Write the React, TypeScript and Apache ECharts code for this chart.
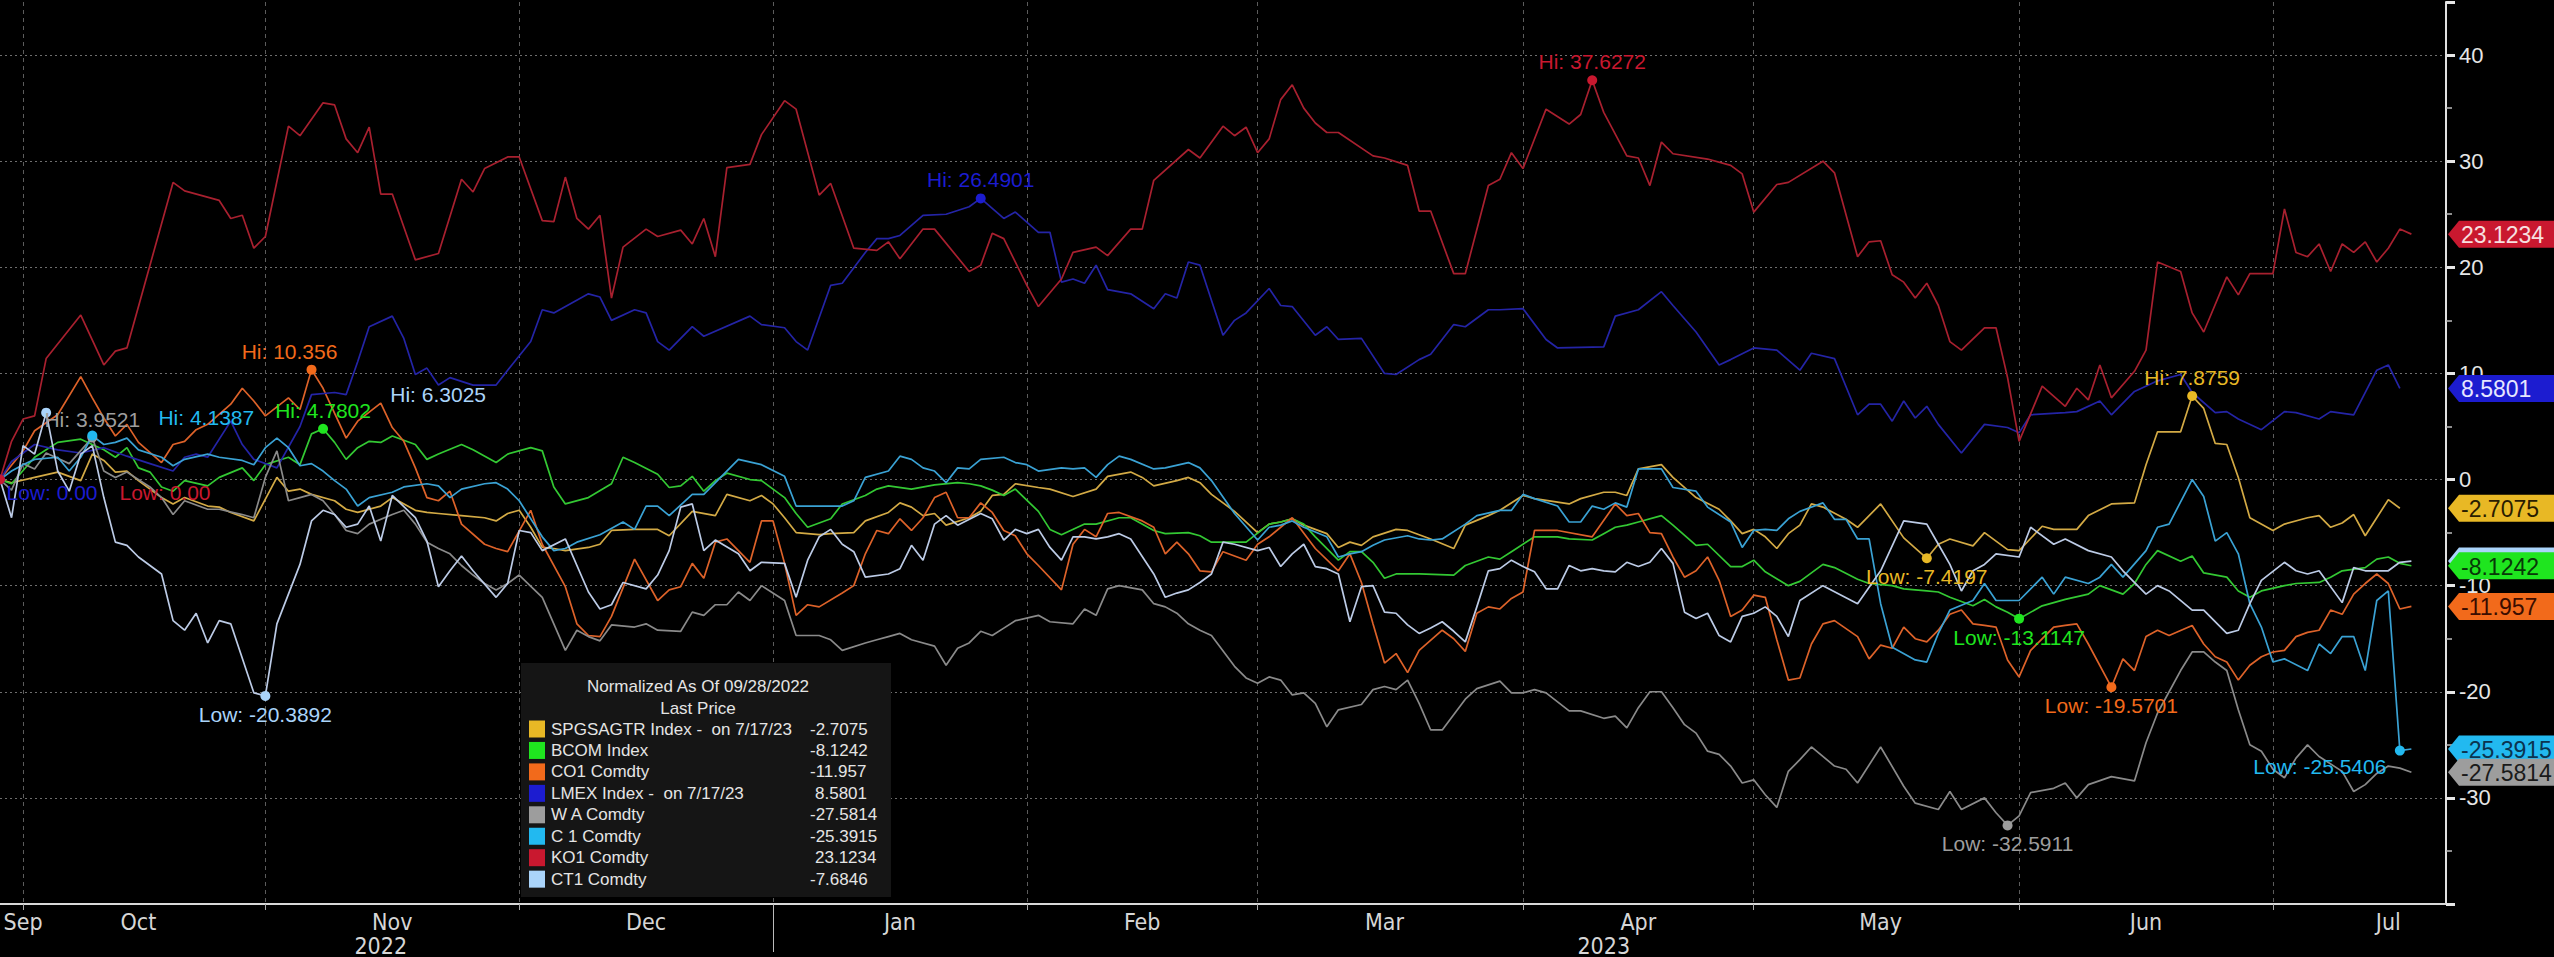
import React, { useEffect, useRef } from "react";
import * as echarts from "echarts";

type Pt = [number, number];

// ---------- categories: trading (week) days from the normalisation date ----------
const START_DATE = "2022-09-28";
const CATEGORY_COUNT = 213; // through 2023-07-21 (axis runs a few days past the data)

function weekdayDates(start: string, count: number): string[] {
  const out: string[] = [];
  const d = new Date(start + "T00:00:00Z");
  while (out.length < count) {
    const wd = d.getUTCDay();
    if (wd !== 0 && wd !== 6) out.push(d.toISOString().slice(0, 10));
    d.setUTCDate(d.getUTCDate() + 1);
  }
  return out;
}
function weekdayIndexOf(date: string): number {
  // signed count of weekdays between START_DATE and date
  const a = new Date(START_DATE + "T00:00:00Z");
  const b = new Date(date + "T00:00:00Z");
  const step = b >= a ? 1 : -1;
  let n = 0;
  const d = new Date(a);
  while (d.toISOString().slice(0, 10) !== date) {
    d.setUTCDate(d.getUTCDate() + step);
    const wd = d.getUTCDay();
    if (wd !== 0 && wd !== 6) n += step;
  }
  return n;
}
const categories = weekdayDates(START_DATE, CATEGORY_COUNT);

const monthNames = ["Jan", "Feb", "Mar", "Apr", "May", "Jun", "Jul", "Aug", "Sep", "Oct", "Nov", "Dec"];

// ---------- series (x = trading-day index from 2022-09-28, y = % change) ----------
const SPGSAGTR: Pt[] = [[0,0],[1,-0.3],[3,0.2],[5,0.7],[7,-0.1],[8,2.4],[9,1.8],[10,0.7],[11,0.8],[12,-0.1],[14,-1.7],[15,-2.3],[16,-1.7],[18,-2.5],[19,-2.6],[20,-3.1],[22,-3.9],[24,0.2],[25,-1.1],[26,-0.9],[27,-1.4],[29,-2],[30,-2.8],[31,-3.1],[33,-2.5],[34,-1.7],[36,-2.9],[37,-3.1],[38,-3.2],[40,-3.4],[42,-3.6],[43,-3.9],[44,-3.2],[45,-2.9],[46,-4.5],[47,-6.4],[48,-6.5],[49,-6.7],[51,-6.4],[52,-6.1],[53,-4.8],[55,-4.7],[57,-4.7],[58,-5.3],[60,-3],[62,-3.4],[63,-1.4],[65,-2],[66,-1.5],[67,-2.3],[68,-3.6],[69,-5],[71,-5.2],[72,-5.1],[74,-5],[75,-3.9],[77,-3.1],[78,-2.2],[79,-2.6],[80,-3.4],[81,-3.2],[82,-4.3],[84,-3.6],[85,-3],[86,-1.5],[87,-1.4],[88,-0.4],[90,-0.75],[91,-0.9],[93,-1.6],[95,-0.9],[96,0.3],[98,0.7],[99,0.2],[100,-0.6],[102,-0.1],[103,0.2],[104,-0.3],[105,-1.4],[107,-3],[109,-5],[110,-4.2],[111,-4],[112,-3.7],[113,-4.3],[115,-5.1],[116,-6.4],[117,-5.9],[118,-6.2],[119,-5.4],[121,-4.7],[122,-4.8],[124,-5.6],[126,-6.5],[127,-4.3],[129,-3.4],[130,-2.9],[132,-1.5],[133,-1.8],[136,-2.3],[137,-1.8],[139,-1.2],[140,-1.2],[141,-1.5],[142,1],[144,1.4],[145,0.2],[147,-1.7],[149,-2.8],[150,-3.9],[151,-5.1],[152,-4.7],[153,-5.4],[154,-6.5],[155,-5.1],[156,-4.3],[157,-2.3],[158,-2.6],[160,-3.75],[161,-4.5],[163,-2.3],[165,-5.5],[167,-7.4197],[168,-6.1],[169,-5.6],[171,-6.25],[172,-5],[174,-6.6],[175,-6.7],[177,-4.4],[178,-4.7],[180,-4.7],[181,-3.4],[183,-2.3],[185,-2.2],[186,1.4],[187,4.5],[189,4.5],[190,7.8759],[191,6.7],[192,3.4],[193,3.3],[194,0.2],[195,-3.6],[197,-4.8],[198,-4.2],[200,-3.6],[201,-3.4],[202,-4.5],[203,-4.1],[204,-3.3],[205,-5.3],[206,-3.6],[207,-1.9],[208,-2.7075]];

const BCOM: Pt[] = [[0,0],[1,-0.4],[3,2.1],[4,2.8],[5,3.5],[7,3.8],[8,3.3],[9,2.8],[10,2.1],[11,3],[12,1.1],[13,0.7],[14,-0.7],[15,-1.1],[16,-0.1],[18,-0.6],[19,0.2],[21,1.1],[22,-0.1],[23,1.4],[25,2.1],[26,1.4],[27,4.3],[28,4.7802],[29,3.5],[30,1.9],[31,3],[32,3.6],[33,3.5],[34,4.1],[36,3.3],[37,1.9],[38,2.4],[40,3.3],[41,2.8],[43,1.6],[44,2.4],[46,3],[47,2.7],[48,-0.7],[49,-2.3],[51,-1.7],[53,-0.4],[54,2.1],[55,1.6],[57,0.5],[58,-0.75],[59,-0.6],[60,0.3],[61,-1.1],[62,-0.1],[63,0.6],[65,0],[66,-0.1],[68,-1.7],[69,-3.2],[70,-4.5],[72,-3.7],[73,-2.3],[75,-1.5],[76,-0.9],[77,-0.6],[79,-0.9],[81,-0.5],[83,-0.3],[84,-0.4],[85,-0.6],[86,-1],[87,-1.5],[88,-0.9],[90,-3],[91,-4.7],[92,-5.2],[94,-4.2],[95,-4.2],[97,-3.6],[98,-3.6],[100,-4.8],[101,-5.1],[103,-5],[104,-5.3],[105,-5.9],[108,-5.9],[110,-4.2],[111,-4],[112,-3.7],[113,-4.2],[114,-5.4],[116,-7.6],[117,-6.8],[118,-6.8],[119,-7.8],[120,-9.3],[121,-8.9],[123,-8.9],[126,-9],[127,-8.1],[129,-7.3],[130,-7.5],[131,-6.8],[133,-5.4],[135,-5.4],[136,-5.6],[138,-5.7],[139,-5.1],[140,-4.5],[141,-4.3],[142,-4],[144,-3.4],[145,-4.3],[147,-6.2],[148,-6.1],[150,-8.2],[151,-8.2],[152,-7.6],[153,-8.7],[155,-10],[156,-9.6],[158,-8],[159,-8.3],[161,-9.4],[162,-9.8],[164,-10],[165,-10.3],[167,-10.5],[168,-10.6],[169,-11.1],[171,-11.9],[172,-11.3],[173,-12],[174,-12.5],[175,-13.1147],[177,-11.9],[178,-11.6],[179,-11.3],[181,-10.8],[182,-10],[184,-10.8],[185,-9.8],[186,-8],[187,-6.7],[189,-7.7],[190,-7.2],[191,-8.8],[193,-9.2],[194,-10.5],[195,-11.1],[196,-10.5],[198,-10],[199,-9.8],[201,-9.7],[202,-9.2],[203,-8.6],[205,-8.3],[206,-7.5],[207,-7.3],[208,-7.9],[209,-8.1242]];

const CO1: Pt[] = [[0,0],[2,2.7],[3,4.6],[5,6.1],[7,9.7],[8,7.7],[9,5.8],[10,4.1],[11,5.2],[12,3.5],[14,1.6],[15,3.3],[16,3.6],[17,4.7],[18,5.2],[20,7.1],[21,8.6],[22,7.4],[23,6],[25,7.7],[26,6.6],[27,10.356],[28,8.6],[30,3.9],[31,5.5],[33,7.2],[34,4.9],[35,3.6],[36,1.1],[37,-1.7],[38,-2],[39,-1.1],[40,-4.2],[42,-6.1],[43,-6.5],[44,-6.8],[46,-2.9],[47,-6.1],[49,-10.1],[50,-13.6],[51,-14.7],[52,-14.8],[53,-12.9],[55,-7.5],[57,-11.4],[58,-10.4],[59,-10.1],[60,-7.9],[61,-9.3],[62,-5.9],[63,-5.6],[64,-6.7],[65,-7.8],[66,-3.9],[67,-3.9],[68,-7.9],[69,-12.8],[70,-11.8],[71,-12],[73,-10.7],[74,-10],[75,-7],[76,-4.8],[77,-5.1],[78,-3.7],[79,-4.8],[80,-3.6],[81,-1.7],[82,-1.2],[83,-3.6],[84,-3.6],[85,-2.2],[86,-3.1],[87,-4.8],[88,-5.3],[89,-7],[90,-8.1],[92,-10.4],[93,-6.1],[94,-4.7],[95,-5.4],[96,-3.2],[97,-3.1],[99,-3.9],[100,-4.5],[101,-7],[102,-5.9],[103,-7],[104,-8.6],[105,-8.7],[106,-6.8],[108,-7.6],[109,-6.1],[110,-5.4],[112,-3.6],[114,-6.5],[116,-8.6],[117,-7],[118,-9.7],[119,-13.6],[120,-17.3],[121,-16.4],[122,-18.2],[123,-16.1],[125,-14.2],[126,-15],[127,-16.2],[128,-12.6],[129,-12],[130,-12.2],[131,-11.2],[132,-10.6],[133,-4.8],[135,-4.8],[138,-5.4],[140,-2.3],[141,-3.4],[142,-3.2],[143,-5],[144,-5.1],[145,-7.3],[146,-9.2],[147,-8.6],[148,-7.3],[149,-9.5],[150,-12.9],[151,-12.3],[152,-10.9],[153,-11.1],[154,-15.1],[155,-18.9],[156,-18.7],[157,-15.5],[158,-13.6],[159,-13.3],[161,-14.8],[162,-16.9],[163,-15.6],[164,-15.9],[165,-13.9],[166,-15],[167,-15.3],[168,-14.2],[169,-12.7],[170,-12.3],[171,-13.6],[172,-13.75],[173,-13.9],[174,-17],[175,-18.6],[176,-16.1],[178,-13.9],[179,-13.75],[180,-13.6],[181,-15.5],[183,-19.5701],[184,-16.9],[185,-18],[186,-14.8],[187,-14.2],[188,-14.7],[190,-13.75],[191,-15.5],[192,-16.7],[193,-17.2],[194,-18.9],[195,-17.5],[196,-16.7],[197,-16.25],[198,-16.1],[199,-14.8],[200,-14.4],[201,-14.2],[202,-12.3],[203,-12.7],[204,-10.8],[205,-9.8],[206,-8.9],[207,-9.8],[208,-12.2],[209,-11.957]];

const LMEX: Pt[] = [[0,0],[1,1.7],[3,3.3],[5,2.8],[7,2.5],[9,3],[11,2.2],[13,1.5],[15,0.8],[16,2.1],[17,2.4],[18,2.1],[20,5.5],[21,3.3],[22,1.9],[24,1.1],[26,5],[27,8],[29,8.2],[30,8],[31,11.1],[32,14.4],[34,15.4],[35,13.3],[36,9.9],[37,10.5],[38,8.9],[39,9.6],[41,8.9],[43,8.9],[44,10.3],[46,13],[47,16],[48,15.7],[51,17.5],[52,17.2],[53,15],[55,16],[56,15.7],[57,13],[58,12.2],[59,13.3],[60,14.4],[61,13.5],[65,15.4],[66,14.6],[68,14.3],[69,13],[70,12.2],[72,18.3],[73,18.5],[75,21.4],[76,22.7],[77,22.7],[78,23],[80,24.9],[82,25],[84,25.7],[85,26.4901],[87,24.6],[88,25.2],[90,23.3],[91,23.3],[92,18.6],[93,18.9],[94,18.5],[95,20.2],[96,17.9],[98,17.5],[100,16.1],[101,17.5],[102,17.1],[103,20.5],[104,20.2],[106,13.6],[107,15],[108,15.7],[110,18],[111,16.4],[112,16.3],[114,13.6],[115,14.4],[116,13.2],[118,13.3],[120,10],[121,9.9],[123,11.3],[124,11.8],[126,14.6],[127,14.4],[129,16],[130,16],[132,16.1],[134,13.2],[135,12.4],[139,12.5],[140,15.4],[142,16],[144,17.7],[145,16.4],[147,13.9],[149,10.8],[150,11.3],[152,12.4],[154,12.2],[156,10.3],[157,11.9],[159,11.4],[161,6.1],[162,7.1],[163,7.1],[164,5.5],[165,7.4],[166,5.8],[167,6.9],[168,5.2],[170,2.5],[172,5.2],[174,4.9],[175,4.4],[176,6.1],[179,6.3],[180,6.4],[182,7.4],[183,6.1],[185,8.3],[187,9.3],[189,9.9],[190,8.2],[192,6.3],[193,6.4],[194,5.7],[196,4.7],[198,6.4],[199,6.3],[201,5.7],[202,6.4],[204,6.1],[206,10.3],[207,10.8],[208,8.5801]];

const WA: Pt[] = [[0,0],[1,-1],[2,1.5],[3,1],[4,2.5],[6,1.5],[8,3.9521],[9,0.8],[10,0.2],[11,0.7],[13,-0.7],[14,-1.7],[15,-3.3],[16,-2],[18,-2.8],[19,-2.8],[21,-3.3],[22,-3.6],[23,0.2],[24,2.7],[25,-2],[26,-1.7],[27,-1.4],[28,-2],[29,-3.3],[30,-4.8],[31,-5.1],[32,-4.2],[34,-3.3],[35,-2.9],[36,-4.2],[37,-5.9],[38,-6.5],[39,-7],[40,-8.1],[41,-9],[42,-9.8],[43,-10.4],[44,-9.8],[45,-9],[47,-11.1],[48,-13.6],[49,-16.1],[50,-14.2],[51,-14.8],[52,-15.2],[53,-13.7],[55,-13.9],[56,-13.6],[57,-14.2],[59,-14.3],[60,-12.5],[61,-12.8],[62,-11.8],[63,-11.8],[64,-10.6],[65,-11.4],[66,-10],[68,-11.4],[69,-14.7],[71,-14.7],[72,-15.1],[73,-16.1],[75,-15.4],[76,-15.1],[77,-14.8],[78,-14.5],[79,-15.1],[81,-15.7],[82,-17.5],[83,-15.9],[84,-15.4],[85,-14.3],[86,-14.7],[87,-14],[88,-13.3],[90,-12.8],[91,-13.4],[93,-13.6],[94,-12.2],[95,-12.8],[96,-10.3],[97,-10],[99,-10.4],[100,-11.7],[101,-12],[102,-12.6],[103,-13.6],[104,-14.2],[105,-14.7],[107,-17.6],[108,-18.7],[109,-19.2],[110,-18.6],[111,-18.9],[112,-20.3],[113,-20.1],[114,-21.1],[115,-23.3],[116,-21.7],[118,-21.2],[119,-19.8],[120,-19.5],[121,-19.8],[122,-18.9],[123,-21.1],[124,-23.6],[125,-23.6],[127,-20.7],[128,-19.7],[130,-19],[131,-20.1],[132,-20.1],[133,-19.8],[134,-20.1],[136,-21.8],[137,-21.8],[139,-22.5],[140,-22.3],[141,-23.4],[142,-21.5],[143,-20],[144,-20],[145,-21.5],[146,-23.1],[147,-23.9],[148,-25.6],[149,-25.9],[150,-27],[151,-28.6],[152,-28.3],[153,-29.7],[154,-30.9],[155,-27.5],[156,-26.4],[157,-25.2],[159,-27],[160,-27.3],[161,-28.6],[163,-25.2],[165,-28.9],[166,-30.5],[168,-31.1],[169,-29.4],[170,-31.1],[172,-30],[173,-31.4],[174,-32.5911],[175,-31.7],[176,-29.5],[178,-29.1],[179,-28.6],[180,-30],[181,-28.75],[183,-28],[185,-28.4],[186,-24.8],[187,-22],[189,-18],[190,-16.25],[191,-16.25],[192,-17.2],[193,-18],[194,-21.7],[195,-25],[196,-25.6],[197,-27.3],[198,-28.1],[199,-26.25],[200,-25],[201,-26.1],[203,-27.5],[204,-29.4],[205,-28.75],[206,-27.7],[207,-27],[208,-27.2],[209,-27.5814]];

const C1: Pt[] = [[0,0],[1,0.8],[2,1.4],[3,1.9],[5,2.1],[6,0.8],[7,2.1],[8,4.1387],[9,3.3],[10,3.5],[11,3.9],[12,2.8],[14,2.1],[15,1.3],[16,1.9],[18,2.4],[19,2.1],[21,1.8],[22,1.4],[23,3],[24,3.9],[25,3],[26,1.3],[27,1.5],[28,0.8],[29,-0.1],[30,-0.9],[31,-2.5],[32,-1.7],[34,-1.2],[35,-0.7],[37,-0.4],[38,-0.6],[39,-1.7],[40,-0.9],[42,-0.4],[43,-0.3],[44,-0.9],[45,-2],[47,-5.4],[48,-6.7],[49,-6.5],[50,-5.9],[52,-5.2],[54,-4],[55,-4.7],[56,-2.5],[57,-2.5],[58,-3.4],[60,-1.4],[61,-1.4],[64,1.9],[66,1.4],[68,0.3],[69,-2.5],[71,-2.5],[73,-2.5],[74,-2],[75,0.2],[77,0.8],[78,2.2],[79,1.9],[80,1.1],[81,0.8],[82,-0.3],[83,1.1],[84,1],[85,1.9],[87,2.1],[88,1.6],[89,1.4],[90,0.8],[92,1.1],[93,1],[94,1.1],[95,0.2],[96,1.4],[97,2.2],[98,1.9],[100,1],[101,1.1],[103,1.6],[104,1.1],[105,-0.1],[107,-3.2],[109,-5.7],[110,-4.5],[111,-4.3],[112,-3.9],[113,-4.5],[115,-5.4],[116,-7.3],[117,-7],[118,-6.8],[119,-6.2],[120,-5.7],[122,-5.3],[123,-5.6],[124,-5.7],[125,-5.6],[127,-4.2],[128,-3.4],[130,-2.9],[131,-2.9],[132,-1.4],[133,-1.8],[135,-2.5],[136,-4],[137,-4],[138,-2.5],[139,-2.8],[140,-2.2],[141,-2.6],[142,1],[144,1],[145,-0.75],[147,-1.1],[148,-2.6],[150,-4],[151,-6.4],[152,-4.8],[153,-4.7],[154,-4.8],[155,-3.7],[156,-3],[158,-2.2],[159,-3.75],[160,-3.75],[161,-5.6],[162,-5.6],[163,-11.7],[164,-15.8],[166,-17],[167,-17.2],[168,-14.5],[169,-12.3],[171,-11.4],[172,-9.8],[173,-11.4],[175,-11.4],[177,-9.2],[178,-10.8],[179,-9.2],[181,-9.8],[182,-9.2],[183,-8],[184,-9.2],[186,-6.7],[187,-4.5],[188,-4.2],[190,0],[191,-1.6],[192,-5.8],[193,-5],[194,-7],[195,-11.7],[196,-13.9],[197,-17.2],[198,-16.9],[200,-18],[201,-15.5],[202,-16.4],[203,-14.8],[204,-14.8],[205,-18],[206,-11.4],[207,-10.5],[208,-25.5406],[209,-25.3915]];

const KO1: Pt[] = [[0,0],[1,3.6],[2,5.7],[3,6],[4,11.4],[7,15.5],[9,10.8],[10,12.1],[11,12.4],[13,20.2],[15,28],[16,27.2],[19,26.3],[20,24.6],[21,24.9],[22,21.8],[23,22.9],[25,33.3],[26,32.4],[28,35.5],[29,35.3],[30,32.1],[31,30.8],[32,33.2],[33,26.9],[34,26.9],[36,20.7],[38,21.3],[40,28.3],[41,27.1],[42,29.3],[44,30.4],[45,30.4],[47,24.4],[48,24.3],[49,28.5],[50,24.6],[51,23.6],[52,24.9],[53,17.1],[54,21.9],[56,23.6],[57,22.9],[59,23.5],[60,22.2],[61,24.6],[62,21],[63,29.4],[65,29.7],[66,32.5],[68,35.7],[69,34.9],[71,26.8],[72,27.9],[74,21.8],[76,21.6],[77,22.4],[78,20.8],[80,23.6],[81,23.6],[84,19.6],[85,20.2],[86,23.2],[87,22.7],[89,18.3],[90,16.3],[92,18.9],[93,21.4],[95,21.9],[96,21.1],[98,23.6],[99,23.6],[100,28.2],[103,31.1],[104,30.3],[106,33.3],[107,32.4],[108,33.2],[109,30.8],[110,32.1],[111,35.8],[112,37.2],[113,35],[114,33.6],[115,32.7],[116,32.7],[119,30.5],[120,30.3],[122,29.6],[123,25.3],[124,25.3],[126,19.4],[127,19.4],[129,27.7],[130,28.3],[131,30.8],[132,29.3],[134,34.9],[136,33.5],[137,34.4],[138,37.6272],[139,34.6],[141,30.5],[142,30.3],[143,27.7],[144,31.8],[145,30.7],[148,30.2],[150,29.6],[151,28.8],[152,25.2],[154,27.8],[155,28],[158,30],[159,28.9],[161,21],[162,22.4],[163,22.5],[164,19.3],[165,18.6],[166,17.1],[167,18.5],[168,16.4],[169,13],[170,12.2],[172,14.3],[173,14.3],[174,9.6],[175,3.6],[177,8.8],[179,6.9],[180,8.6],[181,7.5],[182,10.8],[183,7.7],[185,10.2],[186,12.2],[187,20.5],[189,19.6],[190,15.7],[191,13.9],[193,19.1],[194,17.4],[195,19.4],[197,19.4],[198,25.5],[199,21.4],[200,21],[201,22.2],[202,19.6],[203,22.2],[204,21.4],[205,22.4],[206,20.5],[207,21.8],[208,23.6],[209,23.1234]];

const CT1: Pt[] = [[0,0],[1,-3.6],[2,3.2],[3,2.4],[4,6.3025],[5,0.8],[6,-1.1],[7,2.4],[8,3.2],[9,-1.7],[10,-5.9],[11,-6.2],[12,-7.3],[13,-8.1],[14,-8.9],[15,-13.3],[16,-14.2],[17,-12.6],[18,-15.4],[19,-13.3],[20,-13.6],[22,-20.1],[23,-20.3892],[24,-13.6],[26,-8],[27,-3.9],[28,-2.9],[29,-3.3],[30,-4.5],[31,-4.2],[32,-2.5],[33,-5.8],[34,-1.5],[36,-3.6],[37,-5.8],[38,-10.1],[39,-8.6],[40,-7.2],[41,-8.6],[43,-11.1],[44,-9.8],[45,-4.8],[46,-5],[47,-6.7],[49,-5.6],[51,-10.6],[52,-12.2],[53,-11.8],[54,-9.7],[56,-10.3],[57,-9],[58,-6.7],[59,-2.6],[60,-2.3],[61,-6.7],[62,-5.7],[64,-7],[65,-8.6],[66,-7.8],[68,-7.9],[69,-11.1],[70,-7.6],[71,-5.4],[72,-4.7],[73,-6.1],[74,-6.8],[75,-9.2],[77,-8.9],[78,-8.4],[79,-6.2],[80,-7.6],[81,-4.2],[82,-3.4],[83,-4.3],[85,-3.2],[86,-3.7],[87,-5.7],[88,-4.7],[89,-5.1],[90,-4.7],[91,-6.4],[92,-7.6],[93,-5.4],[94,-5.4],[95,-5.6],[96,-5.4],[97,-5.1],[98,-5.6],[100,-8.9],[101,-11.1],[102,-10.7],[103,-10.4],[104,-9.7],[105,-8.9],[106,-5.9],[107,-6.1],[109,-6.7],[110,-6.4],[111,-8.2],[112,-7],[113,-6.1],[114,-8.2],[115,-8.4],[116,-8.9],[117,-13.4],[118,-10.1],[119,-10],[120,-12.5],[121,-12.6],[122,-13.7],[123,-14.5],[124,-14],[125,-13.4],[126,-14.3],[127,-15.3],[128,-12],[129,-8.6],[130,-8.4],[131,-7.6],[132,-8.2],[133,-8.7],[134,-10.3],[135,-10.3],[136,-8.1],[137,-8.6],[138,-8.4],[139,-8.6],[140,-8.7],[141,-7.8],[142,-8.2],[143,-7.8],[144,-6.5],[145,-7.9],[146,-12.5],[147,-13.1],[148,-12.6],[149,-14.7],[150,-15.3],[151,-12.9],[152,-12.6],[153,-12],[154,-12.9],[155,-14.8],[156,-11.4],[158,-10],[161,-11.7],[163,-8.6],[165,-3.9],[167,-4.2],[168,-6.1],[169,-8],[170,-10.5],[171,-8.6],[172,-8],[173,-7],[175,-7.3],[176,-4.5],[178,-6.1],[179,-5.6],[181,-6.7],[183,-7.3],[184,-8.6],[186,-10.8],[187,-10],[188,-10.5],[190,-12.3],[191,-12.3],[193,-14.5],[194,-14.2],[195,-11.7],[196,-9.5],[198,-7.8],[199,-8.6],[200,-8.9],[201,-8.6],[203,-11.6],[204,-8.3],[205,-8.6],[207,-8.6],[208,-7.8],[209,-7.6846]];

const seriesData: Pt[][] = [SPGSAGTR, BCOM, CO1, LMEX, WA, C1, KO1, CT1];
const tickers = ["SPGSAGTR Index", "BCOM Index", "CO1 Comdty", "LMEX Index", "W A Comdty", "C 1 Comdty", "KO1 Comdty", "CT1 Comdty"];
const legendSuffix = ["-  on 7/17/23", "", "", "-  on 7/17/23", "", "", "", ""];
const legendTitle = "Normalized As Of 09/28/2022";
const legendSubtitle = "Last Price";

// ---------- styles ----------
const lineColors = ["#d3aa45", "#33c833", "#dd6229", "#2424a6", "#8a8a8a", "#3aa2d4", "#a8202f", "#bccbe6"];
const keyColors = ["#e8b825", "#1fe51f", "#f26a1b", "#1c1cd0", "#9d9d9d", "#22b9f0", "#c9182f", "#aad4fa"];
const tagTextColors = ["#2a1d00", "#083808", "#3a0d00", "#e6e6ff", "#1a1a1a", "#0b3450", "#f7e0e0", "#10243a"];
const tagDrawOrder = [6, 3, 0, 7, 1, 2, 5, 4];
// label placements of the Hi / Low markers: [position, dx, dy]
const hiLabel: [string, number, number][] = [["top", 0, 0], ["top", 0, 0], ["top", -22, 0], ["top", 0, 0], ["top", 0, 0], ["top", 114, 0], ["top", 0, 0], ["top", 392, 0]];
const loLabel: [string, number, number][] = [["bottom", 0, 0], ["bottom", 0, 0], ["bottom", 0, 0], ["bottom", 52, -6], ["bottom", 0, 0], ["bottom", -80, -3], ["bottom", 165, -6], ["bottom", 0, 0]];

const FONT = "'Liberation Sans', 'DejaVu Sans', sans-serif";
const NARROW = "'Liberation Sans Narrow', 'DejaVu Sans Condensed', 'Liberation Sans', sans-serif";

function fmtVal(v: number): string {
  return v === 0 ? "0.00" : String(v);
}

// month-end ticks, mid-month labels, year labels
const monthEnds: number[] = [];
for (let i = 0; i < categories.length - 1; i++) {
  if (categories[i].slice(0, 7) !== categories[i + 1].slice(0, 7)) monthEnds.push(i);
}
const monthEndSet = new Set(monthEnds);
function lastWeekdayOfMonth(y: number, m: number): string {
  const d = new Date(Date.UTC(y, m + 1, 0));
  while (d.getUTCDay() === 0 || d.getUTCDay() === 6) d.setUTCDate(d.getUTCDate() - 1);
  return d.toISOString().slice(0, 10);
}
const monthLabelMap = new Map<number, string>();
{
  const seen = new Set<string>();
  for (const c of categories) {
    const key = c.slice(0, 7);
    if (seen.has(key)) continue;
    seen.add(key);
    const y = +c.slice(0, 4);
    const m = +c.slice(5, 7) - 1;
    const prevEnd = weekdayIndexOf(lastWeekdayOfMonth(m === 0 ? y - 1 : y, m === 0 ? 11 : m - 1));
    const thisEnd = weekdayIndexOf(lastWeekdayOfMonth(y, m));
    let mid = Math.floor((prevEnd + thisEnd) / 2);
    mid = Math.max(mid, monthEnds[0]);
    mid = Math.min(mid, categories.length - 1);
    monthLabelMap.set(mid, monthNames[m]);
  }
}
const yearLabelMap = new Map<number, string>();
const yearSepSet = new Set<number>();
{
  let segStart = 0;
  for (let i = 0; i < categories.length; i++) {
    const last = i === categories.length - 1 || categories[i].slice(0, 4) !== categories[i + 1].slice(0, 4);
    if (last) {
      yearLabelMap.set(Math.floor((segStart + i) / 2), categories[i].slice(0, 4));
      if (i < categories.length - 1) yearSepSet.add(i);
      segStart = i;
    }
  }
}

const W = 2554;
const H = 957;
const GRID_RIGHT = 108;

export default function App() {
  const ref = useRef<HTMLDivElement>(null);
  useEffect(() => {
    if (!ref.current) return;
    const chart = echarts.init(ref.current, undefined, { renderer: "svg" });

    const series = seriesData.map((data, k) => ({
      name: tickers[k],
      type: "line",
      data,
      symbol: "none",
      showSymbol: false,
      silent: true,
      z: 2 + k * 0.01,
      lineStyle: { color: lineColors[k], width: 1.7 },
      itemStyle: { color: lineColors[k] },
      emphasis: { disabled: true },
      markPoint: {
        silent: true,
        symbol: "circle",
        symbolSize: 10,
        itemStyle: { color: keyColors[k] },
        data: [
          {
            type: "max",
            label: {
              show: true,
              position: hiLabel[k][0],
              distance: 3,
              offset: [hiLabel[k][1], hiLabel[k][2]],
              color: keyColors[k],
              fontSize: 21,
              fontFamily: FONT,
              formatter: (p: any) => "Hi: " + fmtVal(p.value),
            },
          },
          {
            type: "min",
            label: {
              show: true,
              position: loLabel[k][0],
              distance: 3,
              offset: [loLabel[k][1], loLabel[k][2]],
              color: keyColors[k],
              fontSize: 21,
              fontFamily: FONT,
              formatter: (p: any) => "Low: " + fmtVal(p.value),
            },
          },
        ],
      },
    }));

    chart.setOption({
      animation: false,
      backgroundColor: "#000000",
      grid: { left: 0, right: GRID_RIGHT, top: 2, bottom: 48.3, containLabel: false },
      xAxis: [
        {
          type: "category",
          data: categories,
          boundaryGap: false,
          position: "bottom",
          axisLine: { show: true, onZero: false, lineStyle: { color: "#d8d8d8", width: 2 } },
          axisTick: { show: true, interval: (i: number) => monthEndSet.has(i), length: 6, lineStyle: { color: "#aaaaaa", width: 1 } },
          axisLabel: {
            interval: (i: number) => monthLabelMap.has(i),
            formatter: (_v: string, i: number) => monthLabelMap.get(i) || "",
            color: "#d6d6d6",
            fontSize: 23,
            fontFamily: NARROW,
            margin: 6,
          },
          splitLine: { show: true, interval: (i: number) => monthEndSet.has(i), lineStyle: { color: "#5c5c5c", type: [4, 4], width: 1 } },
        },
        {
          type: "category",
          data: categories,
          boundaryGap: false,
          position: "bottom",
          axisLine: { show: false, onZero: false },
          axisTick: { show: true, interval: (i: number) => yearSepSet.has(i), length: 48, lineStyle: { color: "#bbbbbb", width: 1 } },
          axisLabel: {
            interval: (i: number) => yearLabelMap.has(i),
            formatter: (_v: string, i: number) => yearLabelMap.get(i) || "",
            color: "#d6d6d6",
            fontSize: 23,
            fontFamily: NARROW,
            margin: 30,
          },
          splitLine: { show: false },
        },
      ],
      yAxis: {
        type: "value",
        position: "right",
        min: -40,
        max: 45,
        interval: 10,
        axisLine: { show: true, onZero: false, lineStyle: { color: "#e0e0e0", width: 2 } },
        axisTick: { show: true, length: 9, lineStyle: { color: "#e6e6e6", width: 3 } },
        minorTick: { show: true, splitNumber: 2, length: 6, lineStyle: { color: "#bdbdbd", width: 1.5 } },
        axisLabel: {
          color: "#e6e6e6",
          fontSize: 22,
          fontFamily: FONT,
          margin: 13,
          formatter: (v: number) => (v === -40 || v === 45 ? "" : String(v)),
        },
        splitLine: { show: true, showMinLine: false, showMaxLine: false, lineStyle: { color: "#6e6e6e", type: [2, 3], width: 1.2 } },
      },
      series,
    });

    // right-hand last-value tags + key box
    const graphic: any[] = [];
    const axisX = W - GRID_RIGHT;
    tagDrawOrder.forEach((k, n) => {
      const arr = seriesData[k];
      const last = arr[arr.length - 1][1];
      const y = chart.convertToPixel({ yAxisIndex: 0 } as any, last) as number;
      const h = 13.5;
      graphic.push({
        type: "polygon",
        z: 200 + n,
        silent: true,
        shape: { points: [[axisX + 2, y], [axisX + 13, y - h], [W, y - h], [W, y + h], [axisX + 13, y + h]] },
        style: { fill: keyColors[k] },
      });
      graphic.push({
        type: "text",
        z: 200 + n,
        silent: true,
        x: axisX + 15,
        y: y + 1,
        style: { text: fmtVal(last), fill: tagTextColors[k], fontSize: 23, fontFamily: FONT, align: "left", verticalAlign: "middle" },
      });
    });

    const boxX = 521, boxY = 663, boxW = 370, boxH = 234;
    graphic.push({ type: "rect", z: 150, silent: true, shape: { x: boxX, y: boxY, width: boxW, height: boxH }, style: { fill: "#151515" } });
    graphic.push({ type: "text", z: 151, silent: true, x: boxX + boxW / 2 - 8, y: 686, style: { text: legendTitle, fill: "#e4e4e4", fontSize: 17, fontFamily: FONT, align: "center", verticalAlign: "middle" } });
    graphic.push({ type: "text", z: 151, silent: true, x: boxX + boxW / 2 - 8, y: 708, style: { text: legendSubtitle, fill: "#e4e4e4", fontSize: 17, fontFamily: FONT, align: "center", verticalAlign: "middle" } });
    seriesData.forEach((arr, k) => {
      const ry = 729 + k * 21.45;
      const last = arr[arr.length - 1][1];
      graphic.push({ type: "rect", z: 151, silent: true, shape: { x: 529, y: ry - 8.5, width: 16, height: 17 }, style: { fill: keyColors[k] } });
      graphic.push({ type: "text", z: 151, silent: true, x: 551, y: ry, style: { text: tickers[k] + (legendSuffix[k] ? " " + legendSuffix[k] : ""), fill: "#e4e4e4", fontSize: 17, fontFamily: FONT, align: "left", verticalAlign: "middle" } });
      graphic.push({ type: "text", z: 151, silent: true, x: last >= 0 ? 815 : 810, y: ry, style: { text: String(last), fill: "#e4e4e4", fontSize: 17, fontFamily: FONT, align: "left", verticalAlign: "middle" } });
    });

    chart.setOption({ graphic });

    return () => chart.dispose();
  }, []);

  return (
    <div
      ref={ref}
      style={{ position: "fixed", left: 0, top: 0, width: W, height: H, background: "#000" }}
    />
  );
}
